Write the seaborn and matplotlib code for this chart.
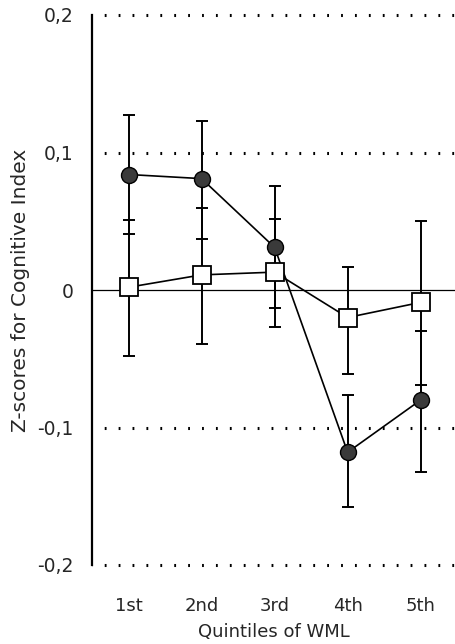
import matplotlib
matplotlib.use("Agg")
import matplotlib.pyplot as plt
import seaborn as sns
import pandas as pd
import numpy as np

quintiles = ["1st", "2nd", "3rd", "4th", "5th"]
circle_mean = [0.084, 0.081, 0.031, -0.118, -0.080]
circle_upper = [0.127, 0.123, 0.076, -0.076, -0.030]
circle_lower = [0.041, 0.037, -0.013, -0.158, -0.132]
square_mean = [0.002, 0.011, 0.013, -0.020, -0.009]
square_upper = [0.051, 0.060, 0.052, 0.017, 0.050]
square_lower = [-0.048, -0.039, -0.027, -0.061, -0.069]
ytick_vals = [-0.2, -0.1, 0.0, 0.1, 0.2]
ytick_labels = ["-0,2", "-0,1", "0", "0,1", "0,2"]

sns.set_style("white")
plt.rcParams['font.family'] = ['DejaVu Sans']

fig = plt.figure(figsize=(4.55, 6.44), dpi=100)
ax = fig.add_axes([92/455, (644-565)/644, (455-92)/455, (565-15)/644])

x = np.arange(len(quintiles))
df_c = pd.DataFrame({"x": x, "y": circle_mean})
df_s = pd.DataFrame({"x": x, "y": square_mean})

# grid lines
for v in ytick_vals:
    if v == 0:
        ax.axhline(v, color="black", lw=0.9, zorder=1, clip_on=False)
    else:
        ax.axhline(v, color="black", lw=2.2, ls=(-4.0, (0.6, 3.95)), zorder=1, clip_on=False)

# error bars
cm = np.array(circle_mean); sm = np.array(square_mean)
ax.errorbar(x, cm, yerr=[cm - np.array(circle_lower), np.array(circle_upper) - cm],
            fmt="none", ecolor="black", elinewidth=1.4, capsize=4, capthick=1.4, zorder=2)
ax.errorbar(x, sm, yerr=[sm - np.array(square_lower), np.array(square_upper) - sm],
            fmt="none", ecolor="black", elinewidth=1.4, capsize=4, capthick=1.4, zorder=2)

sns.lineplot(data=df_c, x="x", y="y", ax=ax, color="black", lw=1.2, marker="o",
             markersize=11.5, markerfacecolor="#3a3a3a", markeredgecolor="black",
             markeredgewidth=1.0, zorder=3)
sns.lineplot(data=df_s, x="x", y="y", ax=ax, color="black", lw=1.2, marker="s",
             markersize=13, markerfacecolor="white", markeredgecolor="black",
             markeredgewidth=1.3, zorder=4)

ax.set_xlim(-0.5, 4.47)
ax.set_ylim(-0.2, 0.2)
ax.set_xticks(x)
ax.set_xticklabels(quintiles, fontsize=13)
ax.set_yticks(ytick_vals)
ax.set_yticklabels(ytick_labels, fontsize=13.5)
ax.tick_params(axis="x", length=0, pad=23)
ax.tick_params(axis="y", length=4, width=1, direction="inout", pad=11)
for s in ["top", "right", "bottom"]:
    ax.spines[s].set_visible(False)
ax.spines["left"].set_color("black")
ax.spines["left"].set_linewidth(1.6)
ax.set_xlabel("Quintiles of WML", fontsize=13)
ax.set_ylabel("Z-scores for Cognitive Index", fontsize=14.5, va="center")
ax.xaxis.set_label_coords(0.5, -0.106)
ax.yaxis.set_label_coords(-71/363, 0.5)

fig.savefig("out.png", dpi=100)
